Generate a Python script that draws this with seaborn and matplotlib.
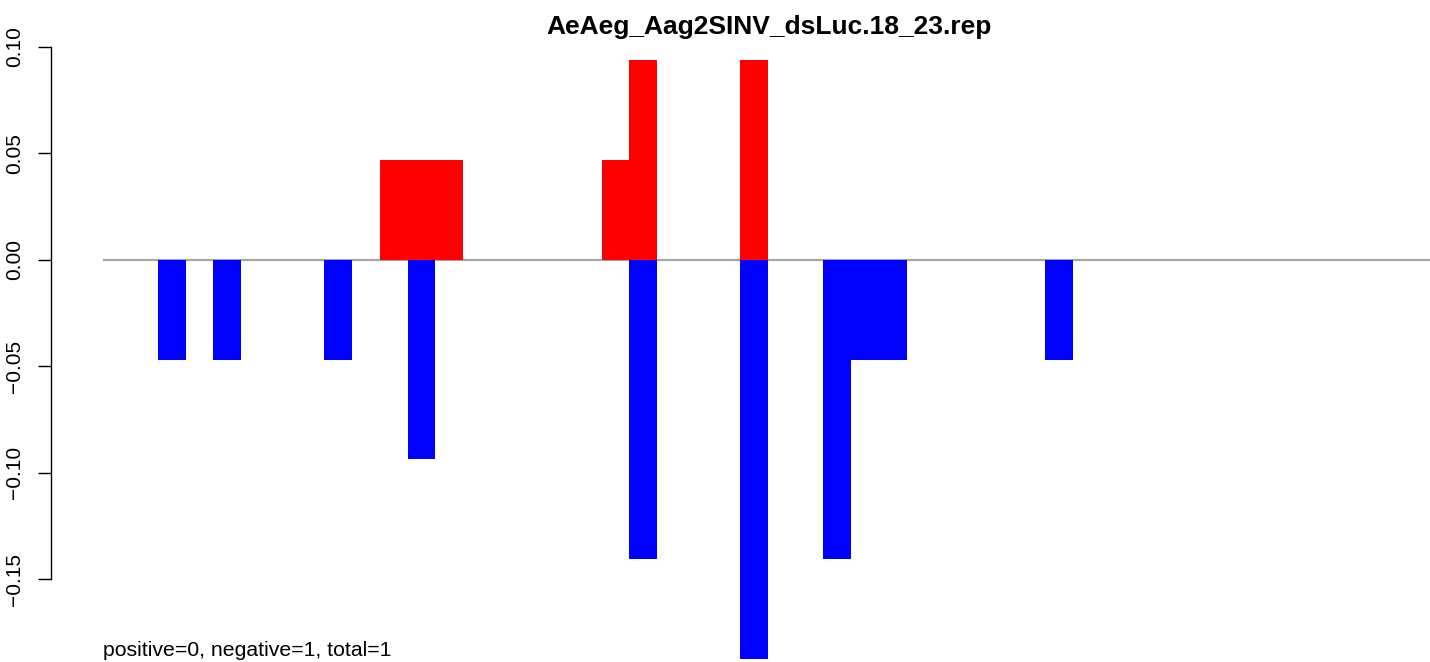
import numpy as np
import pandas as pd
import matplotlib
matplotlib.use("Agg")
import matplotlib.pyplot as plt
import seaborn as sns

# ---- data ----
n_positions = 48
positions = list(range(1, n_positions + 1))
pos_index = [10, 11, 12, 18, 19, 23]
pos_values = [0.046875, 0.046875, 0.046875, 0.046875, 0.09375, 0.09375]
neg_index = [2, 4, 8, 11, 19, 23, 26, 27, 28, 34]
neg_values = [-0.046875, -0.046875, -0.046875, -0.09375, -0.140625,
              -0.1875, -0.140625, -0.046875, -0.046875, -0.046875]
y_ticks = [-0.15, -0.10, -0.05, 0.00, 0.05, 0.10]
title = "AeAeg_Aag2SINV_dsLuc.18_23.rep"
footer = "positive=0, negative=1, total=1"

pos_full = np.zeros(n_positions)
neg_full = np.zeros(n_positions)
for i, v in zip(pos_index, pos_values):
    pos_full[i] = v
for i, v in zip(neg_index, neg_values):
    neg_full[i] = v

df = pd.DataFrame({"position": positions, "pos": pos_full, "neg": neg_full})

sns.set_style("white")
plt.rcParams["font.family"] = ["Liberation Sans", "DejaVu Sans"]
plt.rcParams["text.color"] = "black"
plt.rcParams["ytick.color"] = "black"
plt.rcParams["ytick.labelcolor"] = "black"

W, H = 1430, 662
fig = plt.figure(figsize=(W / 100, H / 100), dpi=100)
ax = fig.add_axes([51 / W, 0, (W - 51) / W, (H - 36) / H])

order = positions
sns.barplot(data=df, x="position", y="pos", order=order, color="#FF0000",
            width=1.0, saturation=1, errorbar=None, linewidth=0, ax=ax, zorder=3)
sns.barplot(data=df, x="position", y="neg", order=order, color="#0000FF",
            width=1.0, saturation=1, errorbar=None, linewidth=0, ax=ax, zorder=3)

ax.hlines(0, -0.5, 60, color="#A6A6A6", lw=1.6, zorder=2)

# calibrated limits
ax.set_xlim(-2.36, 47.38)
ax.set_ylim(-0.18887, 0.10502)

ax.set_xticks([])
ax.set_xlabel("")
ax.set_ylabel("")
ax.set_yticks(y_ticks)
ax.set_yticklabels([f"{t:.2f}".replace("-", "\u2212") for t in y_ticks],
                   rotation=90, va="center", fontsize=15, color="black")
ax.tick_params(axis="y", length=9.4, width=1.0, pad=10, left=True, color="black")
for s in ["top", "right", "bottom"]:
    ax.spines[s].set_visible(False)
ax.spines["left"].set_bounds(-0.15, 0.10)
ax.spines["left"].set_linewidth(1.0)
ax.spines["left"].set_color("black")
ax.patch.set_alpha(0)

fig.text(769 / W, 1 - 34 / H, title, ha="center", va="baseline",
         fontsize=19, fontweight="bold", color="black")
fig.text(103 / W, 6 / H, footer, ha="left", va="baseline", fontsize=15.3,
         color="black")

fig.savefig("out.png", dpi=100)
